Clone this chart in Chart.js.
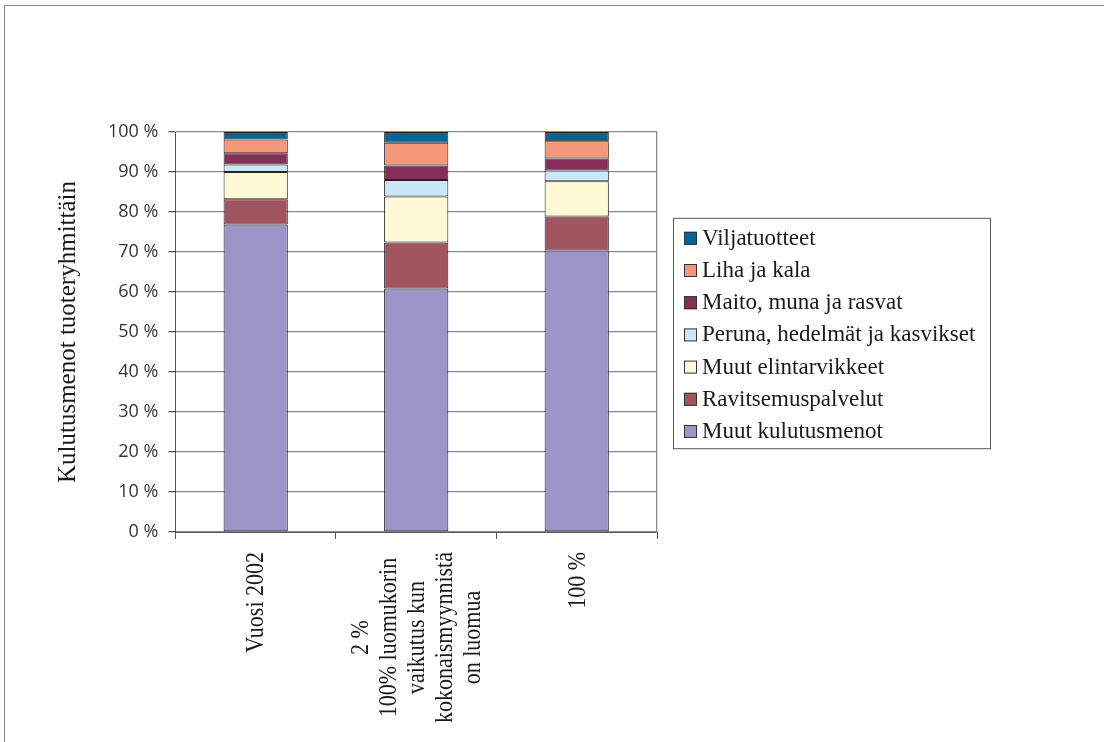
<!DOCTYPE html>
<html lang="fi">
<head>
    <meta charset="UTF-8">
    <title>Kulutusmenot tuoteryhmittäin</title>
    <script src="https://cdn.jsdelivr.net/npm/chart.js"></script>
    <style>
        * { margin: 0; padding: 0; box-sizing: border-box; }
        body { width: 1104px; height: 742px; background: #fff; overflow: hidden; position: relative; }
        /* outer frame of the original sheet (only top and left edge visible) */
        .frame {
            position: absolute; left: 4px; top: 5px; right: -2px; bottom: -2px;
            border-top: 1px solid #8a8a8a; border-left: 1px solid #8a8a8a;
        }
        #chart { position: absolute; left: 0; top: 0; }
    </style>
</head>
<body>
<div class="frame"></div>
<canvas id="chart" width="1104" height="742"></canvas>

<script>
    // categories (multi-line label = array of lines)
    var categories = [
        'Vuosi 2002',
        ['2 %', '100% luomukorin', 'vaikutus kun', 'kokonaismyynnistä', 'on luomua'],
        '100 %'
    ];

    var yTickLabels = ['0 %', '10 %', '20 %', '30 %', '40 %', '50 %', '60 %', '70 %', '80 %', '90 %', '100 %'];

    // shares in %, bottom segment first
    var muutKulutusmenot   = [76.9, 60.9, 70.4];
    var ravitsemuspalvelut = [6.3, 11.5, 8.5];
    var muutElintarvikkeet = [6.8, 11.5, 8.8];
    var perunaHedelmat     = [1.9, 4.1, 2.7];
    var maitoMuna          = [2.8, 3.6, 3.0];
    var lihaKala           = [3.4, 5.7, 4.3];
    var viljatuotteet      = [1.9, 2.7, 2.3];

    var series = [
        { label: 'Muut kulutusmenot', data: muutKulutusmenot, color: '#9c95c8' },
        { label: 'Ravitsemuspalvelut', data: ravitsemuspalvelut, color: '#a35461' },
        { label: 'Muut elintarvikkeet', data: muutElintarvikkeet, color: '#fffad5' },
        { label: 'Peruna, hedelmät ja kasvikset', data: perunaHedelmat, color: '#c8eaf8' },
        { label: 'Maito, muna ja rasvat', data: maitoMuna, color: '#842e58' },
        { label: 'Liha ja kala', data: lihaKala, color: '#f5987a' },
        { label: 'Viljatuotteet', data: viljatuotteet, color: '#00669a' }
    ];

    // x labels: rotated, lines centred on each other, block ends just under the axis
    var xLabelPlugin = {
        id: 'xLabels',
        afterDraw: function (chart) {
            var ctx = chart.ctx;
            var xs = chart.scales.x;
            var lineGap = 28;
            ctx.save();
            ctx.font = '22px "Liberation Serif", "Times New Roman", serif';
            ctx.fillStyle = '#1a1a1a';
            ctx.textAlign = 'center';
            ctx.textBaseline = 'middle';
            categories.forEach(function (lab, i) {
                var lines = Array.isArray(lab) ? lab : [lab];
                var maxW = 0;
                lines.forEach(function (l) { maxW = Math.max(maxW, ctx.measureText(l).width); });
                var cx = xs.getPixelForValue(i);
                var cy = chart.chartArea.bottom + 20 + maxW / 2;
                lines.forEach(function (l, j) {
                    var lx = cx + (j - (lines.length - 1) / 2) * lineGap;
                    ctx.save();
                    ctx.translate(lx, cy);
                    ctx.rotate(-Math.PI / 2);
                    ctx.scale(1, 1.15);
                    ctx.fillText(l, 0, 1);
                    ctx.restore();
                });
            });
            ctx.restore();
        }
    };

    // boxed legend to the right of the plot, top item = top segment
    var legendPlugin = {
        id: 'boxLegend',
        afterDraw: function (chart) {
            var ctx = chart.ctx;
            var area = chart.chartArea;
            var ds = chart.data.datasets.slice().reverse();
            var rowH = 32.2;
            var boxW = 317, boxH = ds.length * rowH + 5;
            var left = area.right + 16;
            var top = (area.top + area.bottom) / 2 - boxH / 2 + 1;
            ctx.save();
            ctx.fillStyle = '#fff';
            ctx.fillRect(left, top, boxW, boxH);
            ctx.strokeStyle = '#555';
            ctx.lineWidth = 1;
            ctx.strokeRect(left + 0.5, top + 0.5, boxW, boxH);
            ctx.font = '23px "Liberation Serif", "Times New Roman", serif';
            ctx.textBaseline = 'middle';
            ds.forEach(function (d, i) {
                var cy = top + 20 + i * rowH;
                ctx.fillStyle = d.backgroundColor;
                ctx.fillRect(left + 11, cy - 6, 13, 13);
                ctx.strokeStyle = '#333';
                ctx.strokeRect(left + 11.5, cy - 5.5, 12, 12);
                ctx.fillStyle = '#1a1a1a';
                ctx.fillText(d.label, left + 29, cy + 1);
            });
            ctx.restore();
        }
    };

    var ctx = document.getElementById('chart').getContext('2d');
    var chart = new Chart(ctx, {
        type: 'bar',
        data: {
            labels: categories,
            datasets: series.map(function (s) {
                return {
                    label: s.label,
                    data: s.data,
                    backgroundColor: s.color,
                    borderColor: '#222',
                    borderWidth: 1,
                    borderSkipped: false,
                    categoryPercentage: 1,
                    barPercentage: 0.4
                };
            })
        },
        options: {
            responsive: false,
            animation: false,
            devicePixelRatio: 1,
            layout: { padding: { left: 53, top: 132, right: 447, bottom: 203 } },
            plugins: {
                legend: { display: false },
                tooltip: { enabled: false }
            },
            scales: {
                x: {
                    stacked: true,
                    ticks: { display: false },
                    grid: {
                        offset: true,
                        drawOnChartArea: false,
                        drawTicks: true,
                        tickLength: 7,
                        color: '#555'
                    },
                    border: { display: true, color: '#555', width: 1 }
                },
                y: {
                    stacked: true,
                    min: 0,
                    max: 100,
                    ticks: {
                        stepSize: 10,
                        padding: 10,
                        color: '#333',
                        font: { family: '"Open Sans", "Noto Sans", sans-serif', size: 18 },
                        callback: function (v, i) { return yTickLabels[i]; }
                    },
                    grid: {
                        color: '#8c8c8c',
                        lineWidth: 1.3,
                        tickColor: '#555',
                        tickLength: 7
                    },
                    border: { display: true, color: '#555', width: 1 },
                    title: {
                        display: true,
                        text: 'Kulutusmenot tuoteryhmittäin',
                        color: '#1a1a1a',
                        font: { family: '"Liberation Serif", "Times New Roman", serif', size: 25 },
                        padding: { top: 0, bottom: 15 }
                    }
                },
                y2: {
                    position: 'right',
                    min: 0,
                    max: 100,
                    ticks: { display: false },
                    grid: { display: false, drawTicks: false },
                    border: { display: true, color: '#8c8c8c', width: 1.3 }
                }
            }
        },
        plugins: [xLabelPlugin, legendPlugin]
    });
</script>
</body>
</html>
